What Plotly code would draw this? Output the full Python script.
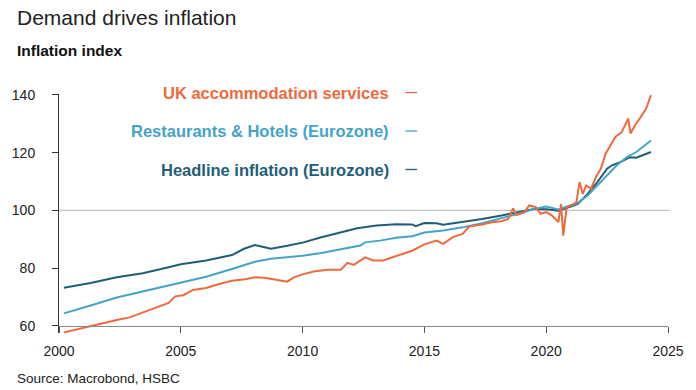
import plotly.graph_objects as go

# ---------------- data ----------------
uk_years = [2000.2, 2000.77, 2001.3, 2001.84, 2002.37, 2002.9, 2003.44, 2003.97, 2004.5, 2004.77,
            2005.1, 2005.5, 2006.04, 2006.57, 2007.1, 2007.64, 2007.9, 2008.04, 2008.44, 2008.97,
            2009.37, 2009.64, 2010.0, 2010.5, 2011.04, 2011.57, 2011.84, 2012.1, 2012.57, 2012.9,
            2013.3, 2013.57, 2013.97, 2014.5, 2015.0, 2015.5, 2015.77, 2016.17, 2016.57, 2016.84,
            2017.37, 2017.77, 2018.17, 2018.44, 2018.64, 2018.77, 2019.1, 2019.3, 2019.57, 2019.77,
            2020.0, 2020.24, 2020.5, 2020.61, 2020.7, 2020.84, 2021.04, 2021.24, 2021.37, 2021.5,
            2021.64, 2021.84, 2022.04, 2022.24, 2022.44, 2022.64, 2022.84, 2023.1, 2023.37, 2023.46,
            2023.64, 2023.84, 2024.1, 2024.3]
uk_values = [57.7, 58.9, 60.0, 60.9, 62.0, 62.9, 64.6, 66.0, 67.9, 70.2,
             70.6, 72.4, 73.1, 74.5, 75.6, 76.1, 76.6, 76.8, 76.6, 75.9,
             75.3, 76.8, 77.8, 78.9, 79.4, 79.4, 81.8, 81.1, 83.7, 82.6,
             82.6, 83.4, 84.5, 86.0, 88.2, 89.5, 88.4, 90.7, 91.8, 94.4,
             95.1, 95.9, 96.2, 97.0, 100.7, 98.4, 99.3, 101.7, 101.1, 98.8,
             99.4, 98.2, 95.9, 102.2, 91.2, 101.1, 101.7, 102.8, 109.8, 105.7,
             108.6, 107.5, 111.5, 114.4, 119.6, 122.5, 125.4, 127.1, 131.8, 126.6,
             129.4, 131.8, 135.2, 139.9]

rh_years = [2000.2, 2000.77, 2001.3, 2002.37, 2003.44, 2004.5, 2005.0, 2006.04, 2007.1, 2008.04,
            2008.7, 2009.37, 2010.0, 2010.77, 2011.57, 2012.37, 2012.57, 2013.17, 2013.84, 2014.5,
            2015.0, 2015.77, 2016.57, 2017.37, 2018.17, 2018.97, 2019.5, 2020.0, 2020.5, 2021.04,
            2021.3, 2021.7, 2022.1, 2022.5, 2022.9, 2023.3, 2023.7, 2024.3]
rh_values = [64.3, 65.6, 67.0, 69.8, 71.9, 73.9, 75.1, 77.0, 79.7, 82.2,
             83.2, 83.7, 84.3, 85.2, 86.6, 87.8, 88.9, 89.5, 90.5, 91.0,
             92.3, 93.0, 94.1, 95.5, 97.3, 99.0, 100.5, 101.3, 100.3, 101.7,
             102.6, 105.1, 108.6, 112.3, 115.6, 118.4, 120.2, 124.2]

hl_years = [2000.2, 2001.3, 2002.37, 2003.44, 2004.5, 2005.0, 2006.04, 2007.1, 2007.57, 2008.04,
            2008.44, 2008.7, 2009.37, 2010.0, 2010.77, 2011.57, 2012.24, 2013.04, 2013.84, 2014.5,
            2014.64, 2015.0, 2015.5, 2015.77, 2016.57, 2017.37, 2018.17, 2018.97, 2019.5, 2020.0,
            2020.5, 2021.04, 2021.3, 2021.7, 2022.1, 2022.5, 2022.7, 2023.04, 2023.44, 2023.7, 2024.3]
hl_values = [73.2, 74.8, 76.8, 78.2, 80.3, 81.3, 82.6, 84.5, 86.6, 88.0,
             87.2, 86.7, 87.7, 88.8, 90.7, 92.4, 93.8, 94.7, 95.2, 95.1,
             94.5, 95.6, 95.5, 95.0, 95.9, 97.0, 98.2, 99.7, 100.5, 100.4,
             99.9, 101.4, 102.2, 105.7, 109.8, 114.4, 115.6, 116.7, 118.4, 118.2, 120.2]

series_names = ["UK accommodation services", "Restaurants & Hotels (Eurozone)", "Headline inflation (Eurozone)"]
x_ticks = [2000, 2005, 2010, 2015, 2020, 2025]
y_ticks = [60, 80, 100, 120, 140]

# ---------------- styling ----------------
C_UK = "#EE6A3E"
C_RH = "#45A3CA"
C_HL = "#1F5E77"
FONT = "Liberation Sans, Arial, sans-serif"

W, H = 696, 390
L, R, T, B = 46, 25, 94, 57
PW, PH = W - L - R, H - T - B
Y0, Y1 = 57.5, 140.3


def px_x(px):
    return (px - L) / PW


def px_y(py):
    return ((H - B) - py) / PH


fig = go.Figure()
for xs, ys, name, col in [(hl_years, hl_values, series_names[2], C_HL),
                          (rh_years, rh_values, series_names[1], C_RH),
                          (uk_years, uk_values, series_names[0], C_UK)]:
    fig.add_trace(go.Scatter(x=xs, y=ys, mode="lines", name=name,
                             line=dict(color=col, width=2), showlegend=False))

fig.update_layout(
    width=W, height=H,
    margin=dict(l=L, r=R, t=T, b=B),
    paper_bgcolor="white", plot_bgcolor="white",
    font=dict(family=FONT, size=14, color="#222"),
    xaxis=dict(range=[2000, 2025], tickvals=x_ticks, ticks="outside", ticklen=6,
               tickcolor="#555", showline=True, linecolor="#888", linewidth=1,
               showgrid=False, zeroline=False, anchor="free",
               position=(60 - Y0) / (Y1 - Y0), tickfont=dict(size=14),
               ticklabelstandoff=6),
    yaxis=dict(range=[Y0, Y1], tickvals=y_ticks, ticks="outside", ticklen=6,
               tickcolor="#333", showline=True, linecolor="#333", linewidth=1,
               showgrid=False, zeroline=False, ticklabelstandoff=14,
               tickfont=dict(size=14)),
)

# reference line at 100
fig.add_shape(type="line", xref="paper", yref="y", x0=0, x1=1.002, y0=100, y1=100,
              line=dict(color="#b5b5b5", width=1), layer="below")

# title, subtitle, source
fig.add_annotation(text="Demand drives inflation", xref="paper", yref="paper",
                   x=px_x(1), y=px_y(17), xanchor="left", yanchor="middle",
                   showarrow=False, font=dict(size=21, color="#222"))
fig.add_annotation(text="<b>Inflation index</b>", xref="paper", yref="paper",
                   x=px_x(1), y=px_y(51), xanchor="left", yanchor="middle",
                   showarrow=False, font=dict(size=15.5, color="#111"))
fig.add_annotation(text="Source: Macrobond, HSBC", xref="paper", yref="paper",
                   x=px_x(1), y=px_y(378), xanchor="left", yanchor="middle",
                   showarrow=False, font=dict(size=13.5, color="#222"))

# legend (text left of the line sample)
for name, col, py in [(series_names[0], C_UK, 92.5),
                      (series_names[1], C_RH, 131),
                      (series_names[2], C_HL, 169.5)]:
    fig.add_annotation(text="<b>" + name.replace("&", "&amp;") + "</b>", xref="paper", yref="paper",
                       x=px_x(387), y=px_y(py), xanchor="right", yanchor="middle",
                       showarrow=False, font=dict(size=16.5, color=col))
    fig.add_shape(type="line", xref="paper", yref="paper",
                  x0=px_x(401.5), x1=px_x(413.5), y0=px_y(py), y1=px_y(py),
                  line=dict(color=col, width=1.3))

fig.write_html("out.html", config={"displayModeBar": False},
               post_script="document.body.style.margin='0';document.body.style.padding='0';")
